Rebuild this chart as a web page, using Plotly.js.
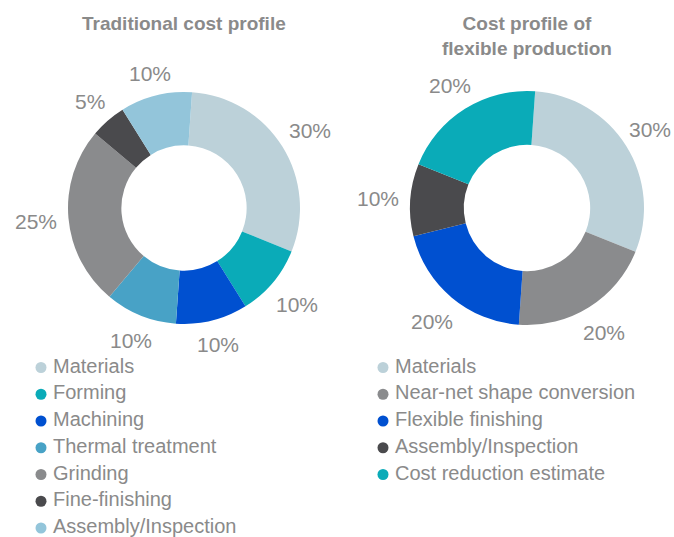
<!DOCTYPE html>
<html><head><meta charset="utf-8">
<script src="https://cdn.plot.ly/plotly-3.0.1.min.js"></script>
<style>html,body{margin:0;padding:0;background:#fff}</style>
</head><body><div id="chart" style="width:674px;height:537px"></div>
<script>
const tradLabels = ["Materials","Forming","Machining","Thermal treatment","Grinding","Fine-finishing","Assembly/Inspection"];
const tradValues = [30,10,10,10,25,5,10];
const tradColors = ["#bcd1d9","#0aabb8","#0050d0","#48a2c6","#8a8b8d","#4a4a4d","#93c5da"];
const flexLabels = ["Materials","Near-net shape conversion","Flexible finishing","Assembly/Inspection","Cost reduction estimate"];
const flexValues = [30,20,20,10,20];
const flexColors = ["#bcd1d9","#8a8b8d","#0050d0","#4a4a4d","#0aabb8"];
const titles = ["Traditional cost profile","Cost profile of<br>flexible production"];

const FONT = "Liberation Sans, Arial, sans-serif";
const GREY = "#8a8a8a";
const W = 674, H = 537;
function px(x){return x/W;} function py(y){return 1-y/H;}

const ROT = 4, HOLE = 0.54, LBL = 21;
const pies = [
  {labels:tradLabels, values:tradValues, colors:tradColors, cx:184, cy:208, r:116},
  {labels:flexLabels, values:flexValues, colors:flexColors, cx:527, cy:208, r:117}
];
const traces = [];
const annotations = [];
pies.forEach(p=>{
  traces.push({type:"pie", hole:HOLE, sort:false, direction:"clockwise", rotation:ROT,
    labels:p.labels, values:p.values, marker:{colors:p.colors,line:{width:0}},
    textinfo:"none", showlegend:false, hoverinfo:"label+percent",
    domain:{x:[px(p.cx-p.r),px(p.cx+p.r)], y:[py(p.cy+p.r),py(p.cy-p.r)]}});
  // percentage labels placed outside each slice, at the slice's mid-angle
  const total = p.values.reduce((a,b)=>a+b,0);
  let cum = 0;
  p.values.forEach(v=>{
    const pct = Math.round(v/total*100);
    const mid = (ROT + (cum + v/2)/total*360) * Math.PI/180;
    cum += v;
    const s = Math.sin(mid), c = Math.cos(mid);
    const txt = pct + "%";
    const w = (txt.length-1)*0.56*LBL + 0.89*LBL, h = 0.72*LBL;
    const D = p.r + 11 + (w/2)*Math.abs(s) + (h/2)*Math.abs(c);
    let x = p.cx + D*s;
    x = Math.min(x, W - 3 - w/2);
    annotations.push({text:txt, xref:"paper", yref:"paper",
      x:px(x), y:py(p.cy - D*c + 1), xanchor:"center", yanchor:"middle",
      showarrow:false, font:{family:FONT,size:LBL,color:GREY}});
  });
});

// Legends drawn as marker rows + text rows on a hidden pixel-scaled axis
const legRow0 = 367.5, legStep = 26.75;
function legendTraces(labels, colors, xMarker){
  const ys = labels.map((_,i)=>legRow0 + i*legStep);
  return [
    {type:"scatter", mode:"markers", hoverinfo:"skip", showlegend:false,
      x: labels.map(()=>xMarker), y: ys, marker:{color:colors,size:11,symbol:"circle"}, cliponaxis:false},
    {type:"scatter", mode:"text", hoverinfo:"skip", showlegend:false,
      x: labels.map(()=>xMarker+12), y: ys, text: labels, textposition:"middle right",
      textfont:{family:FONT,size:20,color:GREY}, cliponaxis:false}
  ];
}
traces.push(...legendTraces(tradLabels, tradColors, 41));
traces.push(...legendTraces(flexLabels, flexColors, 383));

titles.forEach((t,i)=>annotations.push({text:"<b>"+t+"</b>", x:px(pies[i].cx), y:py(11), xref:"paper", yref:"paper",
  xanchor:"center", yanchor:"top", showarrow:false, font:{family:FONT,size:19,color:GREY}}));

const layout = {
  width:W, height:H, margin:{l:0,r:0,t:0,b:0}, paper_bgcolor:"#fff", plot_bgcolor:"rgba(0,0,0,0)",
  showlegend:false,
  xaxis:{visible:false, range:[0,W], domain:[0,1], fixedrange:true},
  yaxis:{visible:false, range:[H,0], domain:[0,1], fixedrange:true},
  annotations: annotations
};
Plotly.newPlot("chart", traces, layout, {displayModeBar:false, staticPlot:true});
</script></body></html>
